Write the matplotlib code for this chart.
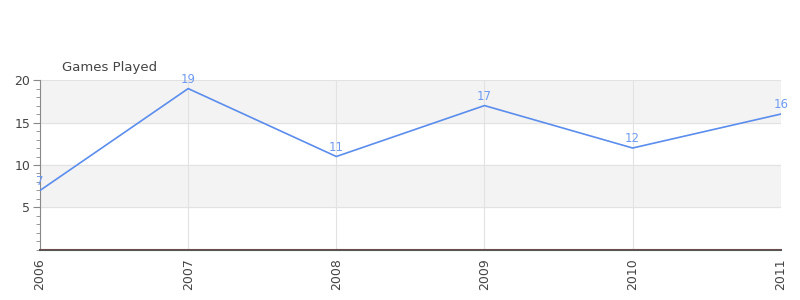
import matplotlib
matplotlib.use('Agg')
import matplotlib.pyplot as plt
from matplotlib.ticker import MultipleLocator

years = ['2006', '2007', '2008', '2009', '2010', '2011']
games = [7, 19, 11, 17, 12, 16]

fig = plt.figure(figsize=(8, 3), dpi=100)
ax = fig.add_axes([0.05, 0.167, 0.926, 0.566])

x = list(range(len(years)))
ax.set_xlim(0, len(years) - 1)
ax.set_ylim(0, 20)

# alternating bands
for lo in (5, 15):
    ax.axhspan(lo, lo + 5, color='#f3f3f3', zorder=0)

ax.grid(True, color='#e2e2e2', linewidth=0.8, zorder=1)
ax.set_axisbelow(True)

ax.plot(x, games, color='#5b8ded', linewidth=1.2, zorder=3)
for xi, v in zip(x, games):
    ax.annotate(str(v), (xi, v), xytext=(0, 2), textcoords='offset points',
                ha='center', va='bottom', fontsize=8.5, color='#6f9bf0', zorder=4)

ax.axhline(0, color='#cc2222', linewidth=1, zorder=5)

ax.set_xticks(x)
ax.set_xticklabels(years, rotation=90, fontsize=9, color='#444444')
ax.set_yticks([5, 10, 15, 20])
ax.set_yticklabels(['5', '10', '15', '20'], fontsize=9, color='#444444')
ax.yaxis.set_minor_locator(MultipleLocator(1))
ax.tick_params(axis='y', which='major', length=5, color='#888888', pad=2)
ax.tick_params(axis='y', which='minor', length=3, color='#888888')
ax.tick_params(axis='x', length=0, pad=6)

for s in ('top', 'right'):
    ax.spines[s].set_visible(False)
ax.spines['left'].set_color('#888888')
ax.spines['bottom'].set_color('#555555')
ax.spines['bottom'].set_linewidth(1.5)

fig.text(0.0775, 0.753, 'Games Played', fontsize=9.5, color='#444444',
         ha='left', va='bottom')

fig.savefig('out.png', dpi=100)
